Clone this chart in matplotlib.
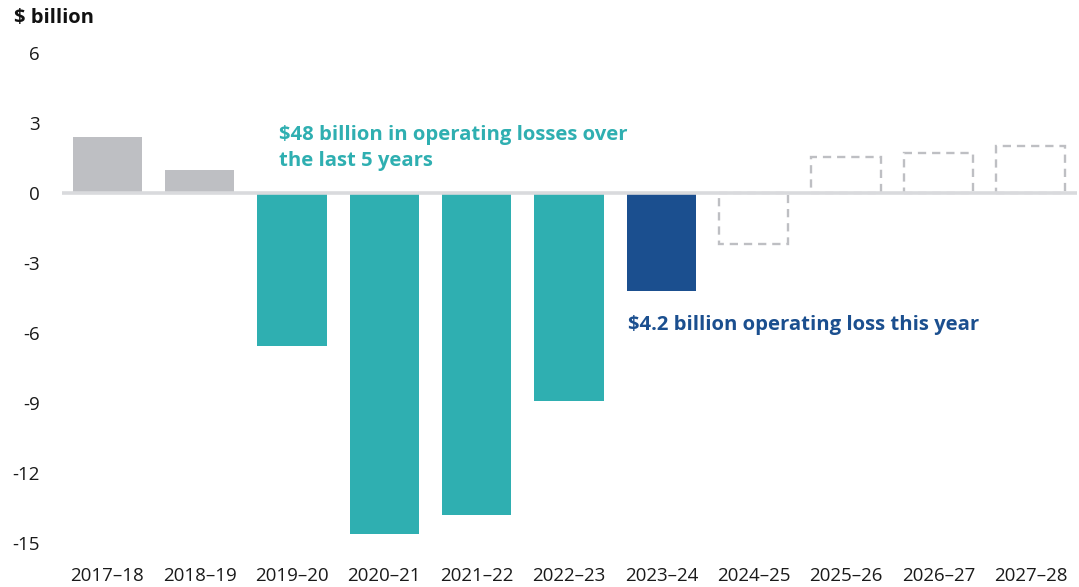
import matplotlib
matplotlib.use("Agg")
import matplotlib.pyplot as plt

plt.rcParams['font.family'] = ['Open Sans', 'DejaVu Sans']

years = ["2017–18", "2018–19", "2019–20", "2020–21", "2021–22", "2022–23",
         "2023–24", "2024–25", "2025–26", "2026–27", "2027–28"]
actual = [2.4, 1.0, -6.55, -14.6, -13.8, -8.9, -4.2]
forecast = [-2.2, 1.55, 1.7, 2.0]
actual_colors = ["#bebfc3", "#bebfc3", "#2fafb1", "#2fafb1", "#2fafb1", "#2fafb1", "#1b4f8f"]
yticks = [6, 3, 0, -3, -6, -9, -12, -15]

fig = plt.figure(figsize=(10.79, 5.87), dpi=100)
ax = fig.add_axes([62/1079, 1-543/587, (1077-62)/1079, (543-53)/587])

x_act = list(range(len(actual)))
x_fc = list(range(len(actual), len(years)))
ax.bar(x_act, actual, width=0.75, color=actual_colors, zorder=2)
ax.bar(x_fc, forecast, width=0.75, fill=False, edgecolor="#bebfc3",
       linewidth=1.7, linestyle=(0, (3.5, 2.5)), zorder=2)
ax.axhline(0, color="#d9dadd", lw=2.6, zorder=3)

ax.set_xlim(-0.49, 10.5)
ax.set_ylim(-15, 6)
ax.set_yticks(yticks)
ax.set_yticklabels([str(v) for v in yticks])
ax.set_xticks(range(len(years)))
ax.set_xticklabels(years)
ax.tick_params(axis='y', length=0, pad=16, labelsize=13.5, colors="#1a1a1a")
ax.tick_params(axis='x', length=0, pad=17, labelsize=13.5, colors="#1a1a1a")
for s in ax.spines.values():
    s.set_visible(False)

fig.text(14/1079, 1-18/587, "$ billion", fontsize=14.5, fontweight='bold',
         color="#111111", ha='left', va='center')

ax.text(1.857, 1.93, "$48 billion in operating losses over\nthe last 5 years",
        color="#2fafb1", fontsize=14.6, fontweight='bold', ha='left', va='center',
        linespacing=1.4)
ax.text(5.64, -5.65, "$4.2 billion operating loss this year",
        color="#1b4f8f", fontsize=14.6, fontweight='bold', ha='left', va='center')

fig.savefig("out.png", dpi=100)
